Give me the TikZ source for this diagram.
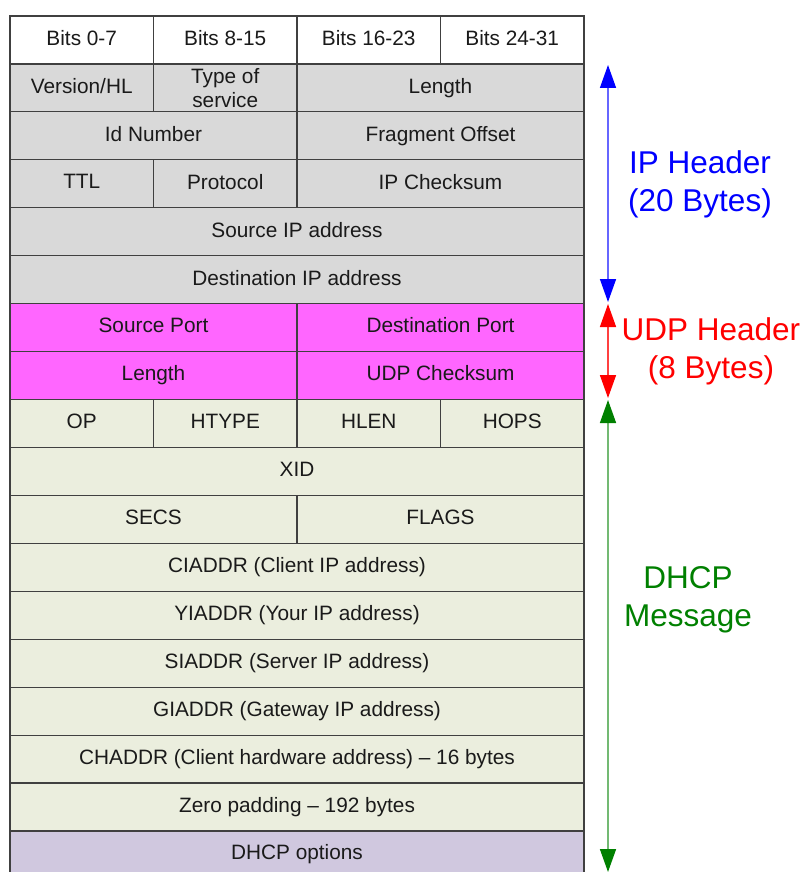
\documentclass[tikz,border=0pt]{standalone}
\usepackage{fontspec}
\setmainfont{Liberation Sans}
\usetikzlibrary{arrows.meta}
\definecolor{ipgray}{HTML}{D9D9D9}
\definecolor{udpmag}{HTML}{FF66FF}
\definecolor{dhcpbg}{HTML}{EBEEDE}
\definecolor{optbg}{HTML}{D0C8DF}
\definecolor{edge}{HTML}{404040}
\definecolor{txt}{HTML}{1A1A1A}
\definecolor{lblgreen}{HTML}{008000}
\tikzset{
  cellbox/.style={draw=edge, line width=1.2pt, inner sep=0pt, outer sep=0pt,
    minimum height=47.94pt, anchor=north west, align=center, text=txt,
    font=\fontsize{20.8}{24}\selectfont},
  lbl/.style={align=center, font=\fontsize{31.5}{38}\selectfont},
  span/.style={line width=1.5pt, {Triangle[width=16pt,length=23pt,color=#1]}-{Triangle[width=16pt,length=23pt,color=#1]}},
}
\newcommand{\cell}[6]{%
  \node[cellbox, fill=#5, minimum width={#3*143.5pt}] (#1) at ({10+#2*143.5}, {-(16+#4*47.94)}) {\vphantom{Hg}#6};}
\begin{document}
\begin{tikzpicture}[x=1pt,y=1pt]
\useasboundingbox (0,0) rectangle (804,-872);
\fill[white] (0,0) rectangle (804,-872);
\begin{scope}
\clip (0,0) rectangle (804,-872);
\cell{b0}{0}{1}{0}{white}{Bits 0-7}
\cell{b1}{1}{1}{0}{white}{Bits 8-15}
\cell{b2}{2}{1}{0}{white}{Bits 16-23}
\cell{b3}{3}{1}{0}{white}{Bits 24-31}
\cell{ver}{0}{1}{1}{ipgray}{Version/HL}
\cell{tos}{1}{1}{1}{ipgray}{Type of\\service}
\cell{len}{2}{2}{1}{ipgray}{Length}
\cell{idn}{0}{2}{2}{ipgray}{Id Number}
\cell{frag}{2}{2}{2}{ipgray}{Fragment Offset}
\cell{ttl}{0}{1}{3}{ipgray}{TTL}
\cell{proto}{1}{1}{3}{ipgray}{Protocol}
\cell{ipck}{2}{2}{3}{ipgray}{IP Checksum}
\cell{srcip}{0}{4}{4}{ipgray}{Source IP address}
\cell{dstip}{0}{4}{5}{ipgray}{Destination IP address}
\cell{sport}{0}{2}{6}{udpmag}{Source Port}
\cell{dport}{2}{2}{6}{udpmag}{Destination Port}
\cell{ulen}{0}{2}{7}{udpmag}{Length}
\cell{uck}{2}{2}{7}{udpmag}{UDP Checksum}
\cell{op}{0}{1}{8}{dhcpbg}{OP}
\cell{htype}{1}{1}{8}{dhcpbg}{HTYPE}
\cell{hlen}{2}{1}{8}{dhcpbg}{HLEN}
\cell{hops}{3}{1}{8}{dhcpbg}{HOPS}
\cell{xid}{0}{4}{9}{dhcpbg}{XID}
\cell{secs}{0}{2}{10}{dhcpbg}{SECS}
\cell{flags}{2}{2}{10}{dhcpbg}{FLAGS}
\cell{ciaddr}{0}{4}{11}{dhcpbg}{CIADDR (Client IP address)}
\cell{yiaddr}{0}{4}{12}{dhcpbg}{YIADDR (Your IP address)}
\cell{siaddr}{0}{4}{13}{dhcpbg}{SIADDR (Server IP address)}
\cell{giaddr}{0}{4}{14}{dhcpbg}{GIADDR (Gateway IP address)}
\cell{chaddr}{0}{4}{15}{dhcpbg}{CHADDR (Client hardware address) – 16 bytes}
\cell{zpad}{0}{4}{16}{dhcpbg}{Zero padding – 192 bytes}
\node[cellbox, fill=optbg, minimum width={4*143.5pt}, minimum height=80pt] (opts) at (10,-831) {};
\node[text=txt, font=\fontsize{20.8}{24}\selectfont] (optstxt) at (297,-854) {\vphantom{Hg}DHCP options};
\coordinate (ipT) at (608,-65);
\coordinate (ipB) at (608,-302);
\coordinate (udT) at (608,-304);
\coordinate (udB) at (608,-398);
\coordinate (dhT) at (608,-400);
\coordinate (dhB) at (608,-872);
\draw[span=blue, color=blue!60] (ipT) -- (ipB);
\draw[span=red, color=red!75] (udT) -- (udB);
\draw[span=lblgreen, color=lblgreen!55] (dhT) -- (dhB);
\node[lbl, text=blue] (ipl) at (700,-184) {IP Header\\(20 Bytes)};
\node[lbl, text=red] (udpl) at (711,-351) {UDP Header\\(8 Bytes)};
\node[lbl, text=lblgreen] (dhcpl) at (688,-600) {DHCP\\Message};
\end{scope}
\end{tikzpicture}
\end{document}
